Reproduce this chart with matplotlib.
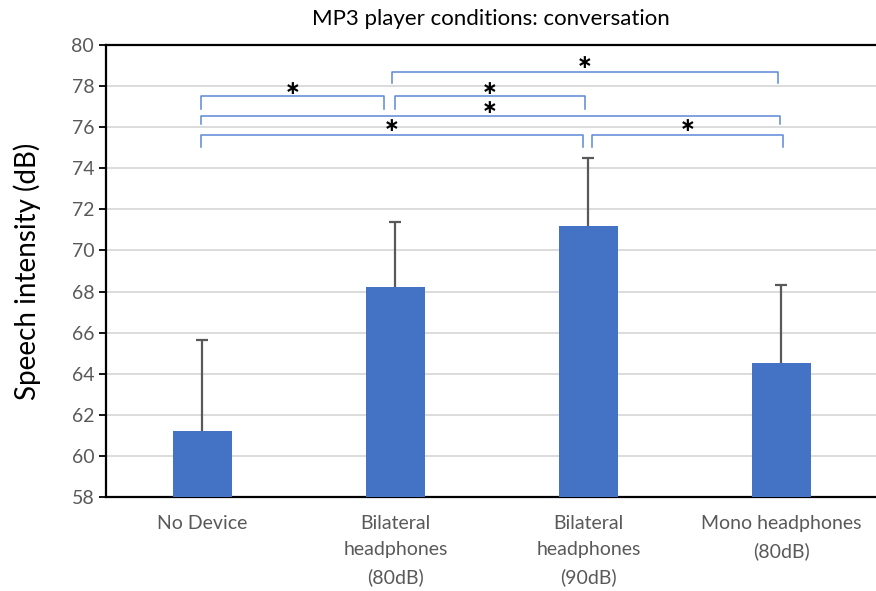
import matplotlib.pyplot as plt
import numpy as np

plt.rcParams['font.family'] = ['Lato', 'DejaVu Sans']

# Datos
categorias = ["No Device", "Bilateral\nheadphones\n(80dB)", "Bilateral\nheadphones\n(90dB)", "Mono headphones\n(80dB)"]
medias = [61.2, 68.2, 71.2, 64.5]
errores = [4.45, 3.2, 3.3, 3.8]

# Comparaciones significativas: (desde, hasta, altura linea, altura patas, altura asterisco)
brackets_x0 = [0.98, -0.01, 1.0, -0.01, -0.01, 2.02]
brackets_x1 = [2.98, 0.94, 1.98, 2.99, 1.97, 3.01]
brackets_y = [78.70, 77.53, 77.53, 76.56, 75.62, 75.62]
brackets_pie = [78.17, 76.87, 76.87, 76.14, 75.05, 75.05]
estrellas_y = [79.14, 77.89, 77.89, 76.95, 76.06, 76.06]

azul = "#4472C4"
gris = "#595959"

fig = plt.figure(figsize=(8.76, 5.91), dpi=100)
ax = fig.add_axes([0.121, 0.159, 0.879, 0.765])

x = np.arange(len(categorias))
ax.bar(x, medias, width=0.31, color=azul, zorder=3)
# barras de error simetricas, la mitad inferior queda tapada por la barra
ax.errorbar(x, medias, yerr=errores, fmt="none", ecolor=gris,
            elinewidth=1.6, capsize=4.5, capthick=1.6, zorder=2.5)

for x0, x1, y, yp, ye in zip(brackets_x0, brackets_x1, brackets_y, brackets_pie, estrellas_y):
    ax.plot([x0, x0, x1, x1], [yp, y, y, yp], color="#5B87D6", lw=1.1,
            solid_joinstyle="round", zorder=5, clip_on=False)
    ax.text((x0 + x1) / 2, ye, "\u2217", ha="center", va="center",
            fontsize=13.5, fontweight="bold", color="black", zorder=6,
            family="DejaVu Sans")

ax.set_ylim(58, 80)
ax.set_xlim(-0.5, 3.49)
ax.set_yticks(np.arange(58, 81, 2))
ax.set_xticks(x)
ax.set_xticklabels(categorias, fontsize=14, color=gris, linespacing=1.65)
ax.tick_params(axis="y", labelsize=14, labelcolor=gris, length=5, width=1.3, color="black")
ax.tick_params(axis="x", length=0, pad=13)
ax.grid(axis="y", color="#D9D9D9", lw=1.3, zorder=0)

for lado in ["left", "bottom", "top"]:
    ax.spines[lado].set_color("black")
    ax.spines[lado].set_linewidth(1.6)
ax.spines["right"].set_visible(False)

ax.set_ylabel("Speech intensity (dB)", fontsize=20, color="black", labelpad=22)
ax.set_title("MP3 player conditions: conversation", fontsize=16, color="black", pad=14)

fig.savefig("out.png", dpi=100)
